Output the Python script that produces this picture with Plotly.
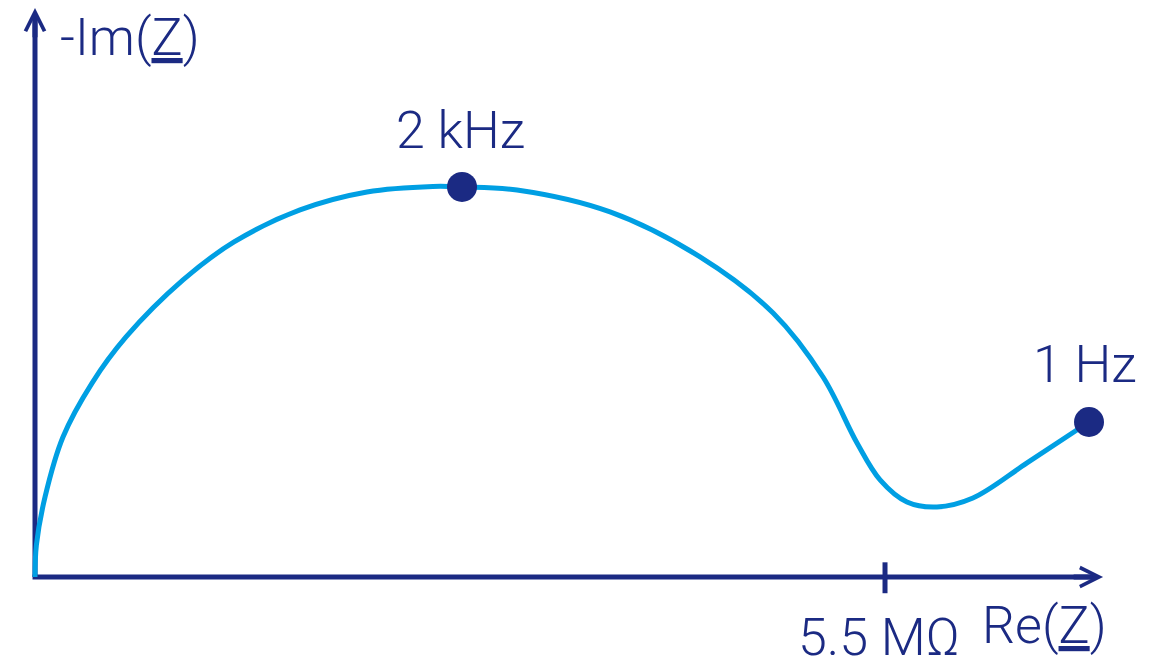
import plotly.graph_objects as go

# Nyquist curve (Re and -Im in MΩ)
re_z = [0.000, 0.009, 0.065, 0.181, 0.369, 0.589, 0.958, 1.288, 1.715, 2.148, 2.575,
        2.763, 3.119, 3.721, 4.303, 4.776, 5.099, 5.319, 5.468, 5.642, 5.836, 6.069,
        6.419, 6.820]
im_z = [0.000, 0.207, 0.518, 0.906, 1.255, 1.553, 1.922, 2.168, 2.375, 2.491, 2.527,
        2.524, 2.504, 2.362, 2.071, 1.708, 1.294, 0.867, 0.628, 0.485, 0.453, 0.511,
        0.738, 1.003]

# highlighted frequencies
freq_labels = ["2 kHz", "1 Hz"]
freq_re = [2.763, 6.820]
freq_im = [2.524, 1.003]

# axis tick
tick_value = [5.5]
tick_label = ["5.5 MΩ"]

NAVY = "#1B2A83"
BLUE = "#009FE3"
FONT = "Roboto"

X_RANGE = [-0.2265, 7.2729]
Y_RANGE = [-0.5953, 3.7335]
X_TIP = 6.911
Y_TIP = 3.682

fig = go.Figure()

fig.add_trace(go.Scatter(
    x=re_z, y=im_z, mode="lines",
    line=dict(color=BLUE, width=5, shape="spline", smoothing=1.0, simplify=False),
    hoverinfo="skip", showlegend=False))

fig.add_trace(go.Scatter(
    x=freq_re, y=freq_im, mode="markers",
    marker=dict(color=NAVY, size=30, line=dict(width=0)),
    hoverinfo="skip", showlegend=False))

# axis lines
fig.add_shape(type="line", x0=-0.016, y0=0, x1=X_TIP - 0.05, y1=0,
              line=dict(color=NAVY, width=5), layer="below")
fig.add_shape(type="line", x0=0, y0=0, x1=0, y1=Y_TIP - 0.05,
              line=dict(color=NAVY, width=5), layer="below")
# tick
for tv in tick_value:
    fig.add_shape(type="line", x0=tv, y0=-0.105, x1=tv, y1=0.095,
                  line=dict(color=NAVY, width=5), layer="below")

# arrow heads
fig.add_annotation(x=X_TIP, y=0, ax=X_TIP - 0.2, ay=0, axref="x", ayref="y",
                   xref="x", yref="y", text="", showarrow=True,
                   arrowhead=5, arrowsize=0.75, arrowwidth=5, arrowcolor=NAVY)
fig.add_annotation(x=0, y=Y_TIP, ax=0, ay=Y_TIP - 0.2, axref="x", ayref="y",
                   xref="x", yref="y", text="", showarrow=True,
                   arrowhead=5, arrowsize=0.75, arrowwidth=5, arrowcolor=NAVY)

txt = dict(showarrow=False, font=dict(family=FONT, size=52, color=NAVY, weight=300))

fig.add_annotation(x=0.149, y=3.494, text="-Im(<u>Z</u>)", xanchor="left", yanchor="middle", **txt)
fig.add_annotation(x=6.529, y=-0.317, text="Re(<u>Z</u>)", xanchor="center", yanchor="middle", **txt)
fig.add_annotation(x=5.458, y=-0.393, text=tick_label[0], xanchor="center", yanchor="middle", **txt)
fig.add_annotation(x=2.750, y=2.892, text=freq_labels[0], xanchor="center", yanchor="middle", **txt)
fig.add_annotation(x=6.791, y=1.378, text=freq_labels[1], xanchor="center", yanchor="middle", **txt)

fig.update_layout(
    width=1159, height=669,
    margin=dict(l=0, r=0, t=0, b=0),
    paper_bgcolor="white", plot_bgcolor="white",
    xaxis=dict(range=X_RANGE, visible=False, fixedrange=True),
    yaxis=dict(range=Y_RANGE, visible=False, fixedrange=True),
    showlegend=False,
)

fig.write_html("out.html", config={"displayModeBar": False})

with open("out.html", "r", encoding="utf-8") as f:
    html = f.read()
html = html.replace("<body>", '<body style="margin:0;padding:0;overflow:hidden;">', 1)
with open("out.html", "w", encoding="utf-8") as f:
    f.write(html)
